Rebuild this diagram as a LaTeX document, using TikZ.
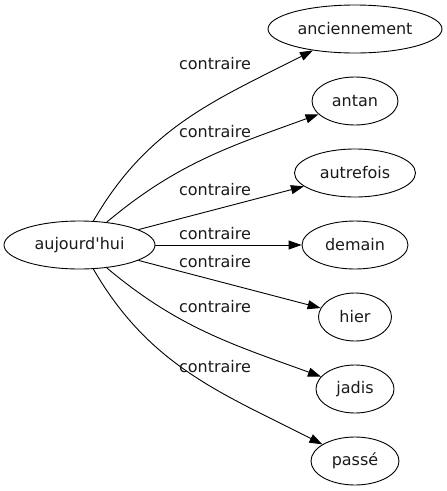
\documentclass[tikz,border=0pt]{standalone}
\usepackage{fontspec}
\setmainfont{DejaVu Sans}
\usetikzlibrary{shapes.geometric,arrows.meta}
\definecolor{motEdge}{HTML}{000000}
\definecolor{motText}{HTML}{1A1A1A}
\tikzset{
  mot/.style={draw=motEdge,ellipse,line width=0.9pt,text=motText,inner sep=0pt,
              minimum height=48pt,font=\fontsize{16}{19}\selectfont},
  motflow/.style={-{Triangle[length=13pt,width=9pt]},draw=motEdge,line width=0.9pt},
  motlbl/.style={font=\fontsize{16}{19}\selectfont,text=motText,inner sep=0pt},
}
\begin{document}
\begin{tikzpicture}[x=1pt,y=-1pt]
  \useasboundingbox (0,0) rectangle (447,491);
  \node[mot,minimum width=151pt] (auj) at (79.5,245) {aujourd\textquotesingle hui};

  \node[mot,minimum width=174pt] (anc) at (355,29) {anciennement};
  \node[mot,minimum width=86pt] (antan) at (355,101) {antan};
  \node[mot,minimum width=121pt] (autr) at (355,173) {autrefois};
  \node[mot,minimum width=106pt] (dem) at (355,245) {demain};
  \node[mot,minimum width=73pt] (hier) at (355,317) {hier};
  \node[mot,minimum width=78pt] (jadis) at (355,389) {jadis};
  \node[mot,minimum width=88pt] (passe) at (355,461) {passé};

  \draw[motflow] (auj) to[out=60,in=207] (anc);
  \draw[motflow] (auj) to[out=40,in=200] (antan);
  \draw[motflow] (auj) -- (autr);
  \draw[motflow] (auj) -- (dem);
  \draw[motflow] (auj) -- (hier);
  \draw[motflow] (auj) to[out=-40,in=160] (jadis);
  \draw[motflow] (auj) to[out=-60,in=153] (passe);

  % edge labels, set beside the curves
  \node[motlbl] (l1) at (215,64) {contraire};
  \node[motlbl] (l2) at (215,132) {contraire};
  \node[motlbl] (l3) at (215,190) {contraire};
  \node[motlbl] (l4) at (215,234) {contraire};
  \node[motlbl] (l5) at (215,262) {contraire};
  \node[motlbl] (l6) at (215,307) {contraire};
  \node[motlbl] (l7) at (215,367) {contraire};
\end{tikzpicture}
\end{document}
